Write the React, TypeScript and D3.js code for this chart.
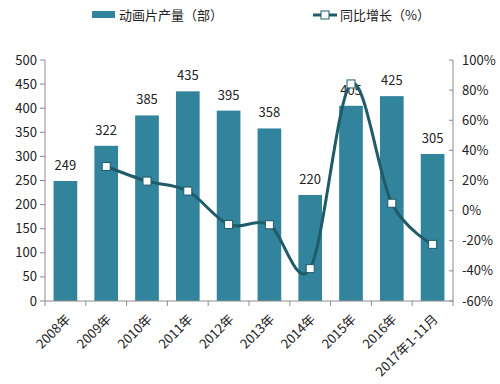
import React, { useEffect, useRef } from 'react';
import * as d3 from 'd3';

const years = ['2008年', '2009年', '2010年', '2011年', '2012年', '2013年', '2014年', '2015年', '2016年', '2017年1-11月'];
const output = [249, 322, 385, 435, 395, 358, 220, 405, 425, 305];
const growth = [null, 29.3, 19.6, 13.0, -9.2, -9.4, -38.5, 84.1, 4.9, -22.4];
const leftTicks = [0, 50, 100, 150, 200, 250, 300, 350, 400, 450, 500];
const rightTicks = [-60, -40, -20, 0, 20, 40, 60, 80, 100];

const FONT = '"Noto Sans CJK SC", "Noto Sans", sans-serif';

const App = () => {
  const ref = useRef<SVGSVGElement>(null);

  useEffect(() => {
    const svg = d3.select(ref.current);
    svg.selectAll('*').remove();

    const left = 45, right = 453, top = 60, bottom = 301;

    const x = d3.scaleBand().domain(years).range([left, right]).paddingInner(0.42).paddingOuter(0.21);
    const xb = d3.scaleBand().domain(years).range([left, right]);
    const y = d3.scaleLinear().domain([0, 500]).range([bottom, top]);
    const y2 = d3.scaleLinear().domain([-60, 100]).range([bottom, top]);

    const axisColor = '#8c8c8c';
    const textColor = '#222';

    // bars
    svg.append('g').selectAll('rect')
      .data(output)
      .enter()
      .append('rect')
      .attr('x', (d, i) => x(years[i]))
      .attr('y', d => y(d))
      .attr('width', x.bandwidth())
      .attr('height', d => bottom - y(d))
      .attr('fill', '#31849b');

    // bar labels
    svg.append('g').selectAll('text')
      .data(output)
      .enter()
      .append('text')
      .attr('x', (d, i) => x(years[i]) + x.bandwidth() / 2)
      .attr('y', d => y(d) - 11)
      .attr('text-anchor', 'middle')
      .attr('font-size', 13)
      .attr('font-family', FONT)
      .attr('fill', textColor)
      .text(d => d);

    // left axis
    const gl = svg.append('g');
    gl.append('line').attr('x1', left).attr('x2', left).attr('y1', top).attr('y2', bottom).attr('stroke', axisColor);
    leftTicks.forEach(t => {
      gl.append('line').attr('x1', left - 5).attr('x2', left).attr('y1', y(t)).attr('y2', y(t)).attr('stroke', axisColor);
      gl.append('text').attr('x', 37).attr('y', y(t) + 4.5).attr('text-anchor', 'end')
        .attr('font-size', 13).attr('font-family', FONT).attr('fill', textColor).text(t);
    });

    // right axis
    const gr = svg.append('g');
    gr.append('line').attr('x1', right).attr('x2', right).attr('y1', top).attr('y2', bottom).attr('stroke', axisColor);
    rightTicks.forEach(t => {
      gr.append('line').attr('x1', right - 4).attr('x2', right).attr('y1', y2(t)).attr('y2', y2(t)).attr('stroke', axisColor);
      gr.append('text').attr('x', 462).attr('y', y2(t) + 4.5).attr('text-anchor', 'start')
        .attr('font-size', 13).attr('font-family', FONT).attr('fill', textColor).text(t + '%');
    });

    // x axis
    const gx = svg.append('g');
    gx.append('line').attr('x1', left).attr('x2', right).attr('y1', bottom).attr('y2', bottom).attr('stroke', axisColor);
    years.forEach((yr, i) => {
      gx.append('line').attr('x1', xb(yr)).attr('x2', xb(yr)).attr('y1', bottom).attr('y2', bottom + 5).attr('stroke', axisColor);
      const cx = xb(yr) + xb.bandwidth() / 2;
      gx.append('text')
        .attr('transform', `translate(${cx + 6},${bottom + 19}) rotate(-45)`)
        .attr('text-anchor', 'end')
        .attr('font-size', 13)
        .attr('font-family', FONT)
        .attr('fill', textColor)
        .text(yr);
    });
    gx.append('line').attr('x1', right).attr('x2', right).attr('y1', bottom).attr('y2', bottom + 5).attr('stroke', axisColor);

    // growth line
    const pts = growth.map((g, i) => ({ g, i })).filter(p => p.g !== null) as { g: number; i: number }[];
    const cxOf = (i: number) => xb(years[i]) + xb.bandwidth() / 2;
    const line = d3.line<{ g: number; i: number }>()
      .x(p => cxOf(p.i))
      .y(p => y2(p.g))
      .curve(d3.curveCardinal.tension(0));

    svg.append('path')
      .datum(pts)
      .attr('d', line)
      .attr('fill', 'none')
      .attr('stroke', '#1f5b69')
      .attr('stroke-width', 3);

    svg.append('g').selectAll('rect')
      .data(pts)
      .enter()
      .append('rect')
      .attr('x', p => cxOf(p.i) - 4)
      .attr('y', p => y2(p.g) - 4)
      .attr('width', 8)
      .attr('height', 8)
      .attr('fill', '#fff')
      .attr('stroke', '#1f5b69')
      .attr('stroke-width', 1);

    // legend
    const lg = svg.append('g');
    lg.append('rect').attr('x', 92).attr('y', 11).attr('width', 23).attr('height', 7).attr('fill', '#31849b');
    lg.append('text').attr('x', 119).attr('y', 19.5).attr('font-size', 13).attr('font-family', FONT)
      .attr('fill', textColor).text('动画片产量（部）');
    lg.append('line').attr('x1', 313).attr('x2', 337).attr('y1', 15).attr('y2', 15).attr('stroke', '#1f5b69').attr('stroke-width', 3);
    lg.append('rect').attr('x', 321).attr('y', 11).attr('width', 8).attr('height', 8).attr('fill', '#fff').attr('stroke', '#1f5b69');
    lg.append('text').attr('x', 340).attr('y', 19.5).attr('font-size', 13).attr('font-family', FONT)
      .attr('fill', textColor).text('同比增长（%）');
  }, []);

  return (
    <svg ref={ref} width={500} height={384} style={{ position: 'absolute', left: 0, top: 0, background: '#fff' }} />
  );
};

export default App;
